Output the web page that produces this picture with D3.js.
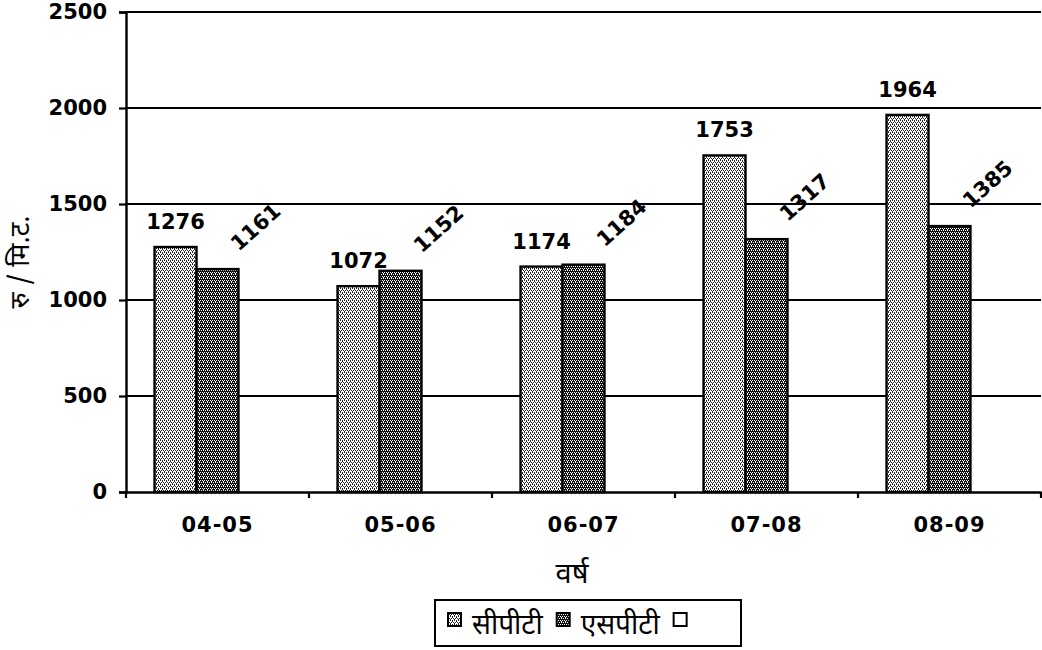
<!DOCTYPE html>
<html>
<head>
<meta charset="utf-8">
<script src="https://cdn.jsdelivr.net/npm/d3@7"></script>
<style>
  body { margin: 0; background: #fff; }
  .num { font-family: "DejaVu Sans", sans-serif; font-weight: bold; }
  .deva { font-family: "Noto Sans Devanagari", "Noto Sans", "Lohit Devanagari", sans-serif; }
</style>
</head>
<body>
<div id="chart"></div>
<script>
// --- data ---
const categories = ["04-05", "05-06", "06-07", "07-08", "08-09"];
const seriesNames = ["सीपीटी", "एसपीटी", ""];
const cptValues = [1276, 1072, 1174, 1753, 1964];
const sptValues = [1161, 1152, 1184, 1317, 1385];
const blankValues = [null, null, null, null, null]; // third (empty) legend entry
const yTicks = [0, 500, 1000, 1500, 2000, 2500];
const yTitle = "रु / मि.ट.";
const xTitle = "वर्ष";

// --- layout ---
const W = 1042, H = 650;
const M = { top: 12, right: 1, bottom: 158, left: 126 };
const plotW = W - M.left - M.right;
const plotH = H - M.top - M.bottom;

const svg = d3.select("#chart").append("svg")
  .attr("width", W)
  .attr("height", H);

// fill patterns (scanned stipple look)
const defs = svg.append("defs");
const p1 = defs.append("pattern").attr("id", "pat-cpt")
  .attr("width", 4).attr("height", 4).attr("patternUnits", "userSpaceOnUse");
p1.append("rect").attr("width", 4).attr("height", 4).attr("fill", "#fff");
[[0, 0], [2, 0], [1, 2], [3, 2], [0, 1], [2, 3]].forEach(([a, b]) =>
  p1.append("rect").attr("x", a).attr("y", b).attr("width", 1).attr("height", 1).attr("fill", "#222"));

const p2 = defs.append("pattern").attr("id", "pat-spt")
  .attr("width", 4).attr("height", 4).attr("patternUnits", "userSpaceOnUse");
p2.append("rect").attr("width", 4).attr("height", 4).attr("fill", "#111");
[[0, 0], [2, 0], [1, 2], [3, 2], [1, 1]].forEach(([a, b]) =>
  p2.append("rect").attr("x", a).attr("y", b).attr("width", 1).attr("height", 1).attr("fill", "#fff"));

const fills = ["url(#pat-cpt)", "url(#pat-spt)", "#fff"];

const g = svg.append("g").attr("transform", `translate(${M.left},${M.top})`);

// --- scales ---
const x0 = d3.scaleBand().domain(categories).range([0, plotW]).padding(0);
const x1 = d3.scaleBand().domain([0, 1, 2]).range([0, x0.bandwidth()]).paddingOuter(0.68).paddingInner(0);
const y = d3.scaleLinear().domain([0, 2500]).range([plotH, 0]);

// gridlines
g.append("g").selectAll("line")
  .data(yTicks.filter(d => d > 0))
  .join("line")
  .attr("x1", 0).attr("x2", plotW)
  .attr("y1", d => y(d)).attr("y2", d => y(d))
  .attr("stroke", "#000").attr("stroke-width", 2.2);

// bars
const series = [cptValues, sptValues, blankValues];
const barData = [];
series.forEach((vals, si) => vals.forEach((v, ci) => {
  if (v != null) barData.push({ si, cat: categories[ci], v });
}));

g.append("g").selectAll("rect")
  .data(barData)
  .join("rect")
  .attr("x", d => x0(d.cat) + x1(d.si))
  .attr("y", d => y(d.v))
  .attr("width", x1.bandwidth())
  .attr("height", d => plotH - y(d.v))
  .attr("fill", d => fills[d.si])
  .attr("stroke", "#000")
  .attr("stroke-width", 2.4);

// y axis
const yAxis = g.append("g")
  .call(d3.axisLeft(y).tickValues(yTicks).tickFormat(d3.format("d")).tickSize(7).tickPadding(12));
yAxis.select(".domain").attr("stroke-width", 2.4);
yAxis.selectAll(".tick line").attr("stroke-width", 2.2);
yAxis.selectAll("text").attr("class", "num").style("font-size", "21px").attr("fill", "#000");

// x axis: line, ticks at category boundaries, labels centred
const xAxis = g.append("g").attr("transform", `translate(0,${plotH})`)
  .call(d3.axisBottom(x0).tickSize(0).tickPadding(25));
xAxis.select(".domain").attr("stroke-width", 2.4);
xAxis.selectAll("text").attr("class", "num").style("font-size", "21px").attr("fill", "#000")
  .attr("letter-spacing", "1px");
xAxis.append("g").selectAll("line")
  .data(categories.concat(["end"]))
  .join("line")
  .attr("x1", d => d === "end" ? plotW : x0(d))
  .attr("x2", d => d === "end" ? plotW : x0(d))
  .attr("y1", 0).attr("y2", 6)
  .attr("stroke", "#000").attr("stroke-width", 2.2);

// data labels: series 1 flat, series 2 rotated
g.append("g").selectAll("text")
  .data(barData.filter(d => d.si === 0))
  .join("text")
  .attr("class", "num")
  .attr("x", d => x0(d.cat) + x1(0) + x1.bandwidth() / 2)
  .attr("y", d => y(d.v) - 18)
  .attr("text-anchor", "middle")
  .style("font-size", "21px")
  .text(d => d.v);

g.append("g").selectAll("text")
  .data(barData.filter(d => d.si === 1))
  .join("text")
  .attr("class", "num")
  .attr("text-anchor", "middle")
  .attr("transform", d => {
    const cx = x0(d.cat) + x1(1) + x1.bandwidth() / 2 + 38;
    const cy = y(d.v) - 42;
    return `translate(${cx},${cy}) rotate(-42)`;
  })
  .attr("dy", "0.35em")
  .style("font-size", "21px")
  .text(d => d.v);

// axis titles
svg.append("text")
  .attr("class", "deva")
  .attr("transform", `translate(29,262) rotate(-90)`)
  .attr("text-anchor", "middle")
  .style("font-size", "27px")
  .text(yTitle);

svg.append("text")
  .attr("class", "deva")
  .attr("x", 572).attr("y", 583)
  .attr("text-anchor", "middle")
  .style("font-size", "29px")
  .text(xTitle);

// legend
const legend = svg.append("g");
legend.append("rect")
  .attr("x", 435).attr("y", 600).attr("width", 306).attr("height", 46)
  .attr("fill", "#fff").attr("stroke", "#000").attr("stroke-width", 2);

let lx = 448;
seriesNames.forEach((name, i) => {
  legend.append("rect")
    .attr("x", lx).attr("y", 613).attr("width", 13).attr("height", 13)
    .attr("fill", i === 2 ? "#fff" : fills[i]).attr("stroke", "#000").attr("stroke-width", 2);
  lx += 24;
  if (name) {
    const t = legend.append("text")
      .attr("class", "deva")
      .attr("x", lx).attr("y", 634)
      .style("font-size", "28px")
      .text(name);
    lx += t.node().getComputedTextLength() + 14;
  }
});
</script>
</body>
</html>
